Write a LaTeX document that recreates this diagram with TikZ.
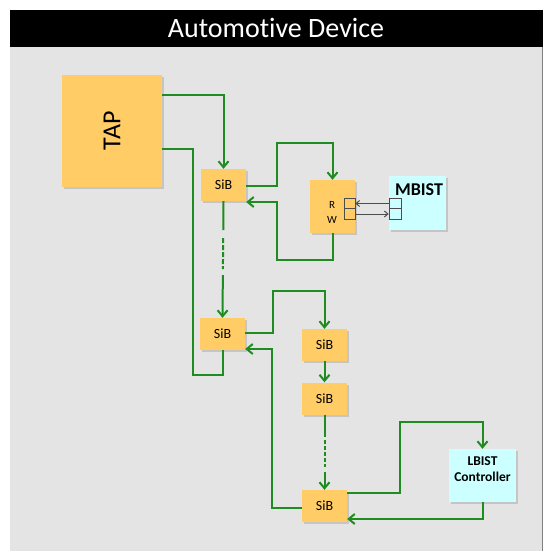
\documentclass[tikz,border=0pt]{standalone}
\usepackage{fontspec}
\setmainfont[Ligatures=NoCommon]{Carlito}
\usetikzlibrary{arrows.meta,shadows}
\definecolor{sibfill}{HTML}{FFCC66}
\definecolor{bistfill}{HTML}{CCFFFF}
\definecolor{wiregreen}{HTML}{1E8C1E}
\definecolor{devbg}{HTML}{E4E4E4}
\tikzset{
  box/.style={fill=sibfill,inner sep=0pt,drop shadow={shadow xshift=2pt,shadow yshift=-2pt,opacity=.3}},
  sib/.style={box,minimum width=45pt,minimum height=32pt,font=\fontsize{14}{15}\selectfont},
  bist/.style={box,fill=bistfill},
  port/.style={draw=black!70,line width=.7pt,inner sep=0pt},
  wire/.style={draw=wiregreen,line width=2pt,>={Straight Barb[length=6pt,width=10pt]}},
  portwire/.style={draw=black!70,line width=1pt,->,>={Straight Barb[length=3.5pt,width=6pt]}}
}
\begin{document}
\begin{tikzpicture}[x=1pt,y=-1pt]
\useasboundingbox (0,0) rectangle (552,557);
\fill[devbg] (10,47) rectangle (542,551);
\draw[gray,line width=1pt] (542,47) -- (542,551);
\fill[black] (10,10) rectangle (543,47);
\node[white,font=\fontsize{28}{30}\selectfont] (title) at (276,28) {Automot\kern0pt ive Device};

\node[box,minimum width=100pt,minimum height=112pt,font=\fontsize{26}{28}\selectfont] (tap) at (112,131) {\rotatebox{90}{TAP}};
\foreach \n/\x/\y in {sib1/223.5/185,sib2/222.5/334,sib3/324.5/345,sib4/324.5/398.5,sib5/324.5/506}
  \node[sib] (\n) at (\x,\y) {SiB};
\node[box,minimum width=45pt,minimum height=53pt] (rw) at (332.5,206.5) {};
\node[font=\fontsize{11}{12}\selectfont] (rlab) at (332,205) {R};
\node[font=\fontsize{11}{12}\selectfont] (wlab) at (332,220) {W};
\node[bist,minimum width=57pt,minimum height=54pt] (mbist) at (417.5,203) {};
\node[font=\bfseries\fontsize{18}{19}\selectfont] (mbtxt) at (419,190) {MBIST};
\node[port,minimum width=11pt,minimum height=10.5pt] (rwr) at (349.5,203.5) {};
\node[port,minimum width=11pt,minimum height=10.5pt] (rww) at (349.5,214) {};
\node[port,minimum width=12pt,minimum height=10.5pt] (mbr) at (395,203.5) {};
\node[port,minimum width=12pt,minimum height=10.5pt] (mbw) at (395,214) {};
\node[bist,minimum width=67pt,minimum height=53pt] (lbist) at (482.5,475.5) {};
\node[align=center,font=\bfseries\fontsize{13.5}{16}\selectfont] (lbtxt) at (482.5,469) {LBIST\\Controller};

\draw[portwire] (mbr.west) -- (rwr.east);
\draw[portwire] (rww.east) -- (mbw.west);

\draw[wire,->] (tap.east |- 0,95) -| (sib1.north);
\draw[wire] (tap.east |- 0,149) -| (193,375) -| (sib2.south);
\draw[wire,->] (sib1.east |- 0,186) -| (277,143) -| (rw.north);
\draw[wire,->] (rw.south) |- (277,260) |- (sib1.east |- 0,202);
\draw[wire,->,dash pattern=on 29pt off 8pt on 5pt off 2pt on 5pt off 2pt on 5pt off 2pt on 5pt off 2pt on 3pt off 6pt on 80pt] (sib1.south) -- (sib2.north);
\draw[wire,->] (sib2.east |- 0,333) -| (273,291) -| (sib3.north);
\draw[wire,->] (sib3.south) -- (sib4.north);
\draw[wire,->,dash pattern=on 22pt off 3pt on 4pt off 2pt on 4pt off 2pt on 4pt off 2pt on 4pt off 2pt on 3pt off 5pt on 60pt] (sib4.south) -- (sib5.north);
\draw[wire,->] (sib5.east |- 0,493) -| (400,422) -| (lbist.north);
\draw[wire,->] (lbist.south) |- (sib5.east |- 0,519);
\draw[wire,->] (sib5.west |- 0,508) -| (272,349) -- (sib2.east |- 0,349);
\end{tikzpicture}
\end{document}
